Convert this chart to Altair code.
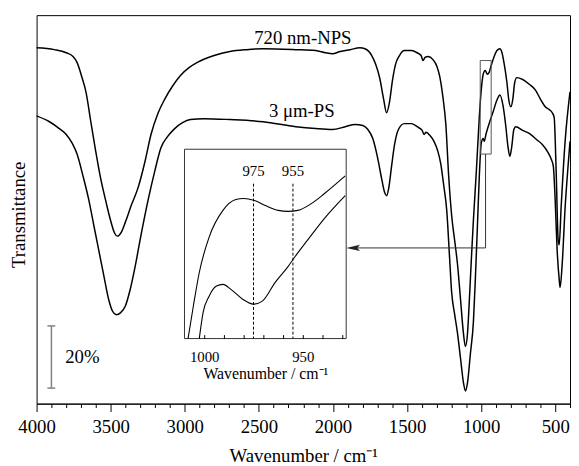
import altair as alt
import pandas as pd

SERIF = "Liberation Serif"

# ---- main spectra (wavenumber cm-1, transmittance % with offset) ----
nps = [(4000,114.5),(3880,113.9),(3800,112.9),(3754,111.7),(3727,109.8),(3694,105.0),(3667,100.3),
       (3634,90.7),(3601,81.2),(3567,72.3),(3534,65.4),(3501,59.0),(3474,54.9),(3454,53.9),(3428,55.2),
       (3401,58.4),(3361,63.8),(3315,69.5),(3268,78.0),(3228,86.6),(3182,93.3),(3135,98.0),(3082,102.2),
       (3029,105.6),(2969,108.2),(2915,109.8),(2802,112.0),(2696,113.3),(2583,113.9),(2470,114.2),
       (2250,113.9),(2117,113.6),(2050,112.9),(2004,112.6),(1951,113.3),(1884,113.9),(1818,114.5),
       (1784,114.2),(1738,112.0),(1711,109.1),(1684,104.7),(1658,98.0),(1638,93.6),(1618,97.1),
       (1598,104.1),(1578,109.1),(1551,112.0),(1518,113.6),(1471,113.6),(1432,112.9),(1405,112.0),
       (1392,110.4),(1378,111.4),(1358,111.7),(1325,110.7),(1298,108.5),(1278,105.0),(1258,98.7),
       (1238,89.8),(1219,73.3),(1199,60.6),(1179,52.7),(1159,44.7),(1139,33.6),(1119,22.5),(1106,18.4),
       (1092,22.5),(1079,33.6),(1066,46.3),(1052,59.0),(1032,74.9),(1012,92.4),(999,100.9),(986,106.0),
       (972,107.2),(959,106.0),(946,106.6),(932,108.8),(912,111.7),(893,113.6),(873,114.2),(859,112.9),
       (846,109.8),(826,103.4),(813,97.7),(799,95.5),(786,98.0),(773,103.4),(759,104.9),(719,104.3),
       (673,102.7),(633,100.9),(600,98.0),(567,95.5),(540,94.6),(520,93.6),(507,92.1),(493,73.9),
       (480,52.7),(473,51.1),(460,63.1),(433,84.4),(400,100.3)]

ps = [(4000,92.6),(3913,90.7),(3847,88.5),(3800,86.6),(3760,83.8),(3727,80.3),(3687,73.3),(3647,65.4),
      (3614,57.4),(3581,49.5),(3548,41.6),(3514,33.6),(3488,29.8),(3461,28.6),(3434,29.2),(3401,31.4),
      (3368,36.8),(3335,44.1),(3295,54.3),(3248,65.4),(3202,74.9),(3162,82.2),(3115,86.0),(3068,88.5),
      (3015,90.4),(2962,91.4),(2869,91.7),(2696,91.4),(2470,90.7),(2250,89.1),(2117,88.5),(2004,88.2),
      (1917,89.1),(1851,89.8),(1798,89.5),(1764,88.2),(1731,85.3),(1698,79.0),(1671,72.3),(1651,67.9),
      (1638,66.9),(1624,69.2),(1604,76.5),(1584,83.4),(1558,88.2),(1518,90.1),(1471,90.1),(1432,89.1),
      (1398,87.9),(1385,86.6),(1372,87.3),(1345,86.3),(1318,84.4),(1292,81.2),(1272,77.1),(1252,70.1),
      (1232,62.2),(1212,46.3),(1199,35.9),(1179,28.9),(1159,22.5),(1139,14.6),(1119,6.7),(1106,4.1),
      (1092,6.7),(1072,16.2),(1052,26.3),(1039,40.0),(1026,55.8),(1012,73.3),(999,83.8),(986,85.3),
      (979,84.4),(966,86.9),(946,90.1),(919,93.9),(893,97.7),(873,99.3),(853,96.1),(833,89.1),
      (819,82.8),(806,79.6),(793,82.8),(779,88.2),(766,89.1),(719,87.9),(673,86.9),(626,85.0),
      (587,83.4),(553,81.2),(527,78.7),(513,76.5),(500,65.4),(487,49.5),(473,40.0),(467,37.4),
      (453,44.7),(433,63.1),(413,76.5),(400,84.4)]

# ---- inset spectra (1010-928 cm-1, zoomed transmittance) ----
inset_nps = [(1008.2,0),(1005.5,17.2),(1002.5,34.9),(997.5,53.6),(990.5,67.7),(984,73.4),(980,74.0),
             (974.5,72.9),(969,70.3),(962.5,67.7),(957.5,67.2),(952.5,67.7),(945.5,71.4),(939,76.6),
             (928.5,85.9)]
inset_ps = [(1002.5,0),(1000.5,14.1),(997.5,22.4),(994,27.6),(990.5,28.6),(986.5,26.0),(980.5,20.8),
            (975,18.2),(970.5,19.8),(964,29.7),(957.5,38.0),(954,43.2),(947.5,52.1),(939,63.5),
            (928.5,75.5)]

series_labels = ["720 nm-NPS", "3 \u03bcm-PS"]
label_wn = [2203, 2210]
label_t = [115.8, 92.3]

marker_wn = [975, 955]
marker_labels = ["975", "955"]

main_ticks = list(range(4000, 399, -100))
inset_ticks = [1000, 990, 980, 970, 960, 950, 940, 930]

# ---------------- scales / axes ----------------
W, H = 541, 394
main_xs = alt.Scale(domain=[4000, 400], nice=False, zero=False)
main_ys = alt.Scale(domain=[0, 125], nice=False, zero=False)
inset_xs = alt.Scale(domain=[1010, 928], range=[150, 314], nice=False, zero=False)
inset_ys = alt.Scale(domain=[0, 100], range=[328, 136], nice=False, zero=False)

main_xaxis = alt.Axis(
    values=main_ticks, format="d",
    labelExpr="datum.value % 500 === 0 ? datum.label : ''",
    tickSize={"condition": {"test": "datum.value % 500 === 0", "value": 8}, "value": 4},
    labelFlush=False, labelOverlap=False, labelFont=SERIF, labelFontSize=19,
    labelColor="black", labelPadding=6, tickColor="black", domainColor="black",
    grid=False, title="Wavenumber / cm\u207b\u00b9", titleFont=SERIF, titleFontSize=19,
    titleFontWeight="normal", titleColor="black", titleBaseline="alphabetic", titleY=59)
main_yaxis = alt.Axis(labels=False, ticks=False, domain=False, grid=False,
                      title="Transmittance", titleFont=SERIF, titleFontSize=19,
                      titleFontWeight="normal", titleColor="black",
                      titleBaseline="alphabetic", titleX=-12, titleY=202)
inset_bottom_axis = alt.Axis(
    values=[1000, 950], format="d", ticks=False, tickSize=0, domain=False, grid=False,
    labelFlush=False, labelFont=SERIF, labelFontSize=15, labelColor="black", labelPadding=11,
    title="Wavenumber / cm\u207b\u00b9", titleFont=SERIF, titleFontSize=16,
    titleFontWeight="normal", titleColor="black", titleBaseline="alphabetic", titleY=41,
    orient="bottom", offset=-66)
inset_top_axis = alt.Axis(
    values=inset_ticks, orient="top", offset=-328, labels=False, domain=False, grid=False,
    tickSize=4, tickColor="black", title=None, zindex=1)


def MX(f):
    return alt.X(f, type="quantitative", scale=main_xs, axis=main_xaxis)


def MY(f):
    return alt.Y(f, type="quantitative", scale=main_ys, axis=main_yaxis)


# ---------------- main layer ----------------
curves = pd.concat([
    pd.DataFrame(nps, columns=["wn", "t"]).assign(series=series_labels[0]),
    pd.DataFrame(ps, columns=["wn", "t"]).assign(series=series_labels[1]),
])
lines = alt.Chart(curves).mark_line(color="black", strokeWidth=1.5, interpolate="monotone").encode(
    x=MX("wn"), y=MY("t"), detail="series:N")

labels_df = pd.DataFrame({"wn": label_wn, "t": label_t, "txt": series_labels})
labels = alt.Chart(labels_df).mark_text(font=SERIF, fontSize=19, align="center",
                                        baseline="alphabetic", color="black").encode(
    x=MX("wn"), y=MY("t"), text="txt:N")

bar_df = pd.DataFrame({"wn": [3900], "t": [5], "t2": [25]})
bar = alt.Chart(bar_df).mark_rule(color="#808080", strokeWidth=1.5).encode(
    x=MX("wn"), y=MY("t"), y2="t2")
caps_df = pd.DataFrame({"wn": [3927, 3927], "wn2": [3874, 3874], "t": [5, 25]})
caps = alt.Chart(caps_df).mark_rule(color="#808080", strokeWidth=1.5).encode(
    x=MX("wn"), x2="wn2", y=MY("t"))
pct_df = pd.DataFrame({"wn": [3807], "t": [13.0], "txt": ["20%"]})
pct = alt.Chart(pct_df).mark_text(font=SERIF, fontSize=19, align="left",
                                  baseline="alphabetic", color="black").encode(
    x=MX("wn"), y=MY("t"), text="txt:N")

box_df = pd.DataFrame({"wn": [1006], "wn2": [932], "t": [110.4], "t2": [80.3]})
box = alt.Chart(box_df).mark_rect(fillOpacity=0, stroke="#555555", strokeWidth=1).encode(
    x=MX("wn"), x2="wn2", y=MY("t"), y2="t2")
vline_df = pd.DataFrame({"wn": [970], "t": [80.3], "t2": [50.1]})
vline = alt.Chart(vline_df).mark_rule(color="#333333", strokeWidth=1).encode(
    x=MX("wn"), y=MY("t"), y2="t2")
hline_df = pd.DataFrame({"wn": [1864], "wn2": [970], "t": [50.1]})
hline = alt.Chart(hline_df).mark_rule(color="#333333", strokeWidth=1).encode(
    x=MX("wn"), x2="wn2", y=MY("t"))
head_df = pd.DataFrame({"wn": [1864], "t": [50.1]})
head = alt.Chart(head_df).mark_point(shape="M-1,0L1,-0.45L0.6,0L1,0.45Z", size=196,
                                     filled=True, color="#222222", opacity=1).encode(
    x=MX("wn"), y=MY("t"))

main = alt.layer(lines, labels, bar, caps, pct, box, vline, hline, head)


# ---------------- inset (bottom axis, frame, curves) ----------------
def AX(f):
    return alt.X(f, type="quantitative", scale=inset_xs, axis=inset_bottom_axis)


def AY(f):
    return alt.Y(f, type="quantitative", scale=inset_ys, axis=None)


frame_df = pd.DataFrame({"wn": [1010], "wn2": [928], "t": [0], "t2": [100]})
frame = alt.Chart(frame_df).mark_rect(fill="white", stroke="#333333", strokeWidth=1).encode(
    x=AX("wn"), x2="wn2", y=AY("t"), y2="t2")
inset_curves = pd.concat([
    pd.DataFrame(inset_nps, columns=["wn", "t"]).assign(series=series_labels[0]),
    pd.DataFrame(inset_ps, columns=["wn", "t"]).assign(series=series_labels[1]),
])
inset_lines = alt.Chart(inset_curves).mark_line(color="black", strokeWidth=1.1,
                                                interpolate="monotone").encode(
    x=AX("wn"), y=AY("t"), detail="series:N")
inset_a = alt.layer(frame, inset_lines)


# ---------------- inset (top tick axis, dashed markers) ----------------
def BX(f):
    return alt.X(f, type="quantitative", scale=inset_xs, axis=inset_top_axis)


dash_df = pd.DataFrame({"wn": marker_wn, "t": [81.8, 81.8], "t0": [0, 0], "txt": marker_labels})
dashes = alt.Chart(dash_df).mark_rule(color="black", strokeWidth=1, strokeDash=[3, 2]).encode(
    x=BX("wn"), y=AY("t"), y2="t0")
dash_txt = alt.Chart(dash_df.assign(ty=[86, 86])).mark_text(
    font=SERIF, fontSize=15, align="center", baseline="alphabetic", color="black").encode(
    x=BX("wn"), y=AY("ty"), text="txt:N")
inset_b = alt.layer(dashes, dash_txt)

chart = alt.layer(main, inset_a, inset_b).resolve_scale(
    x="independent", y="independent"
).properties(
    width=W, height=H, autosize="none",
    padding={"left": 29, "top": 4, "right": 1, "bottom": 60},
    background="white",
).configure_view(stroke="black", strokeWidth=1)

chart.save("out.html", embed_options={"renderer": "svg", "actions": False})
